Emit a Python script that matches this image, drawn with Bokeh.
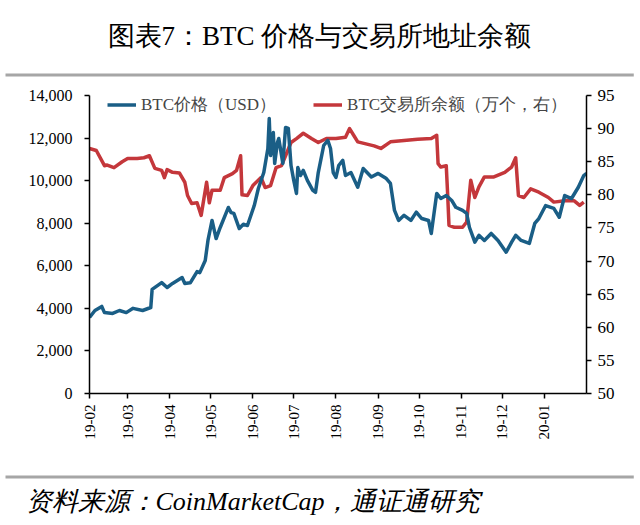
import math
import pandas as pd
from bokeh.plotting import figure
from bokeh.models import (LinearAxis, Range1d, DatetimeTickFormatter, FixedTicker,
                          NumeralTickFormatter, Title, Legend, LegendItem, ColumnDataSource)
from bokeh.embed import file_html
from bokeh.resources import INLINE

# ---------------- data ----------------
price_dates = ["2019-02-01", "2019-02-05", "2019-02-10", "2019-02-12", "2019-02-18", "2019-02-23",
               "2019-02-28", "2019-03-05", "2019-03-12", "2019-03-18", "2019-03-19", "2019-03-26",
               "2019-03-30", "2019-04-03", "2019-04-10", "2019-04-12", "2019-04-16", "2019-04-21",
               "2019-04-23", "2019-04-27", "2019-04-29", "2019-05-02", "2019-05-05", "2019-05-08",
               "2019-05-14", "2019-05-16", "2019-05-18", "2019-05-22", "2019-05-25", "2019-05-28",
               "2019-06-02", "2019-06-05", "2019-06-09", "2019-06-12", "2019-06-13", "2019-06-14",
               "2019-06-16", "2019-06-17", "2019-06-19", "2019-06-20", "2019-06-23", "2019-06-25",
               "2019-06-27", "2019-06-29", "2019-07-01", "2019-07-03", "2019-07-04", "2019-07-06",
               "2019-07-08", "2019-07-11", "2019-07-15", "2019-07-17", "2019-07-19", "2019-07-23",
               "2019-07-26", "2019-07-28", "2019-07-30", "2019-08-01", "2019-08-03", "2019-08-06",
               "2019-08-08", "2019-08-12", "2019-08-17", "2019-08-21", "2019-08-27", "2019-09-01",
               "2019-09-07", "2019-09-10", "2019-09-13", "2019-09-16", "2019-09-20", "2019-09-25",
               "2019-09-29", "2019-10-03", "2019-10-08", "2019-10-10", "2019-10-14", "2019-10-17",
               "2019-10-21", "2019-10-25", "2019-10-28", "2019-11-02", "2019-11-05", "2019-11-07",
               "2019-11-11", "2019-11-14", "2019-11-18", "2019-11-23", "2019-11-28", "2019-12-04",
               "2019-12-08", "2019-12-11", "2019-12-15", "2019-12-21", "2019-12-25", "2019-12-28",
               "2020-01-02", "2020-01-08", "2020-01-12", "2020-01-16", "2020-01-21", "2020-01-26",
               "2020-01-30", "2020-02-01"]
price_usd = [3570, 3900, 4090, 3800, 3760, 3900,
             3800, 4000, 3900, 4040, 4890, 5210,
             4980, 5170, 5450, 5170, 5200, 5730,
             5680, 6250, 7190, 8130, 7280, 7800,
             8740, 8500, 8460, 7750, 7950, 7890,
             8830, 9630, 10380, 11510, 12920, 11180,
             12260, 10810, 11790, 11980, 10810, 12500,
             12450, 10710, 10010, 9400, 10620, 10240,
             10480, 10010, 9540, 9450, 10380, 11650,
             11890, 11510, 10380, 10150, 10710, 10950,
             10240, 10380, 9690, 10570, 10170, 10340,
             10100, 9870, 8600, 8130, 8370, 8130,
             8520, 8220, 8130, 7520, 9400, 9160,
             9300, 9070, 8750, 8600, 8460, 7810,
             7110, 7430, 7190, 7520, 7190, 6640,
             7110, 7430, 7190, 7050, 7990, 8220,
             8830, 8700, 8280, 9300, 9160, 9690,
             10240, 10340]

bal_dates = ["2019-02-01", "2019-02-06", "2019-02-12", "2019-02-14", "2019-02-19", "2019-02-25",
             "2019-03-01", "2019-03-08", "2019-03-13", "2019-03-17", "2019-03-21", "2019-03-26",
             "2019-03-28", "2019-03-30", "2019-04-03", "2019-04-08", "2019-04-12", "2019-04-14",
             "2019-04-17", "2019-04-21", "2019-04-24", "2019-04-28", "2019-04-30", "2019-05-02",
             "2019-05-08", "2019-05-11", "2019-05-17", "2019-05-20", "2019-05-23", "2019-05-24",
             "2019-05-28", "2019-06-01", "2019-06-07", "2019-06-10", "2019-06-14", "2019-06-18",
             "2019-06-22", "2019-06-25", "2019-06-29", "2019-07-03", "2019-07-08", "2019-07-14",
             "2019-07-19", "2019-07-25", "2019-08-01", "2019-08-08", "2019-08-11", "2019-08-14",
             "2019-08-17", "2019-08-29", "2019-09-03", "2019-09-10", "2019-09-20", "2019-09-30",
             "2019-10-10", "2019-10-14", "2019-10-15", "2019-10-17", "2019-10-21", "2019-10-22",
             "2019-10-23", "2019-10-27", "2019-11-02", "2019-11-05", "2019-11-08", "2019-11-11",
             "2019-11-14", "2019-11-18", "2019-11-25", "2019-12-03", "2019-12-08", "2019-12-11",
             "2019-12-13", "2019-12-17", "2019-12-22", "2019-12-28", "2020-01-04", "2020-01-08",
             "2020-01-16", "2020-01-23", "2020-01-27", "2020-01-30"]
bal_wan = [87.0, 86.7, 84.4, 84.5, 84.1, 85.0,
           85.5, 85.5, 85.6, 85.9, 84.0, 83.7,
           82.6, 83.8, 83.4, 83.3, 81.9, 79.9,
           78.7, 78.8, 76.9, 81.9, 78.8, 80.7,
           80.7, 82.6, 83.2, 83.7, 85.9, 80.0,
           79.9, 81.4, 82.6, 81.1, 81.4, 84.1,
           84.4, 85.9, 87.9, 88.5, 89.3, 88.5,
           87.9, 88.5, 88.5, 88.7, 90.0, 89.0,
           88.0, 87.4, 87.0, 88.0, 88.2, 88.4,
           88.5, 89.0, 84.7, 84.2, 84.4, 80.2,
           75.4, 75.1, 75.1, 75.9, 82.2, 79.6,
           81.2, 82.7, 82.7, 83.4, 84.2, 85.6,
           79.9, 79.6, 80.9, 80.4, 79.6, 78.9,
           79.1, 79.1, 78.4, 78.9]

month_ticks = ["2019-02-01", "2019-03-01", "2019-04-01", "2019-05-01", "2019-06-01", "2019-07-01",
               "2019-08-01", "2019-09-01", "2019-10-01", "2019-11-01", "2019-12-01", "2020-01-01"]
left_ticks = [0, 2000, 4000, 6000, 8000, 10000, 12000, 14000]
right_ticks = [50, 55, 60, 65, 70, 75, 80, 85, 90, 95]

title_text = "图表7：BTC 价格与交易所地址余额"
source_text = "资料来源：CoinMarketCap，通证通研究"
price_label = "BTC价格（USD）"
bal_label = "BTC交易所余额（万个，右）"

BLUE = "#1A5E86"
RED = "#C4373B"
GRAY = "#A6A6A6"
FONT = "Liberation Serif"

# ---------------- figure ----------------
def ms(s):
    return (pd.Timestamp(s) - pd.Timestamp("1970-01-01")).total_seconds() * 1000.0

p = figure(width=640, height=525, x_axis_type="datetime", output_backend="svg",
           toolbar_location=None,
           x_range=Range1d(ms("2019-02-01"), ms("2020-02-01")),
           y_range=Range1d(0, 14000),
           min_border_left=89, min_border_right=54, min_border_top=95, min_border_bottom=132)
p.outline_line_color = None
p.grid.visible = False
p.background_fill_color = "white"
p.border_fill_color = "white"
p.title.text = ""

p.extra_y_ranges = {"bal": Range1d(50, 95)}

src_p = ColumnDataSource(dict(date=pd.to_datetime(price_dates), price=price_usd))
src_b = ColumnDataSource(dict(date=pd.to_datetime(bal_dates), bal=bal_wan))

rb = p.line(x="date", y="bal", source=src_b, y_range_name="bal", line_color=RED,
            line_width=3.5, line_join="round")
rp = p.line(x="date", y="price", source=src_p, line_color=BLUE, line_width=3.5,
            line_join="round")

def style_axis(ax, size):
    ax.axis_line_color = "black"
    ax.axis_line_width = 1.5
    ax.major_tick_line_color = "black"
    ax.major_tick_line_width = 1.5
    ax.major_tick_in = 0
    ax.major_tick_out = 5
    ax.minor_tick_line_color = None
    ax.major_label_text_font = FONT
    ax.major_label_text_font_size = size
    ax.major_label_text_color = "black"

xa = p.xaxis[0]
xa.ticker = FixedTicker(ticks=[ms(t) for t in month_ticks])
xa.formatter = DatetimeTickFormatter(days="%y-%m", months="%y-%m", years="%y-%m")
xa.major_label_orientation = math.pi / 2
style_axis(xa, "15px")
xa.major_label_standoff = 6
# blank axis label only reserves room between the tick labels and the footer rule
xa.axis_label = " "
xa.axis_label_text_font_size = "1px"
xa.axis_label_standoff = 26

ya = p.yaxis[0]
ya.ticker = FixedTicker(ticks=left_ticks)
ya.formatter = NumeralTickFormatter(format="0,0")
style_axis(ya, "16px")
ya.major_label_standoff = 12

ra = LinearAxis(y_range_name="bal", ticker=FixedTicker(ticks=right_ticks))
style_axis(ra, "17px")
ra.major_label_standoff = 6
p.add_layout(ra, "right")

legend = Legend(items=[LegendItem(label=price_label, renderers=[rp]),
                       LegendItem(label=bal_label, renderers=[rb])],
                orientation="horizontal", location=(18, 277),
                border_line_color=None, background_fill_alpha=0,
                label_text_font=FONT, label_text_font_size="17px",
                glyph_width=29, glyph_height=21, label_height=21,
                label_standoff=5, spacing=37, padding=0, margin=0)
p.add_layout(legend)

# separator rule under the title (nearest the frame), then the title itself
p.add_layout(Title(text=" ", text_font_size="1px", align="left", offset=-84, standoff=38,
                   background_fill_color=GRAY,
                   padding=dict(left=314, right=314, top=1, bottom=1)), "above")
p.add_layout(Title(text=title_text, text_font=FONT, text_font_size="27px",
                   text_font_style="normal", align="left", offset=18, standoff=4,
                   text_color="black"), "above")

# footer rule, then the source note
p.add_layout(Title(text=" ", text_font_size="1px", align="left", offset=-84, standoff=2,
                   background_fill_color=GRAY,
                   padding=dict(left=314, right=314, top=1, bottom=1)), "below")
p.add_layout(Title(text=source_text, text_font=FONT, text_font_size="26px",
                   text_font_style="italic", align="left", offset=-64, standoff=10,
                   text_color="black"), "below")

open("out.html", "w").write(file_html(p, INLINE))
